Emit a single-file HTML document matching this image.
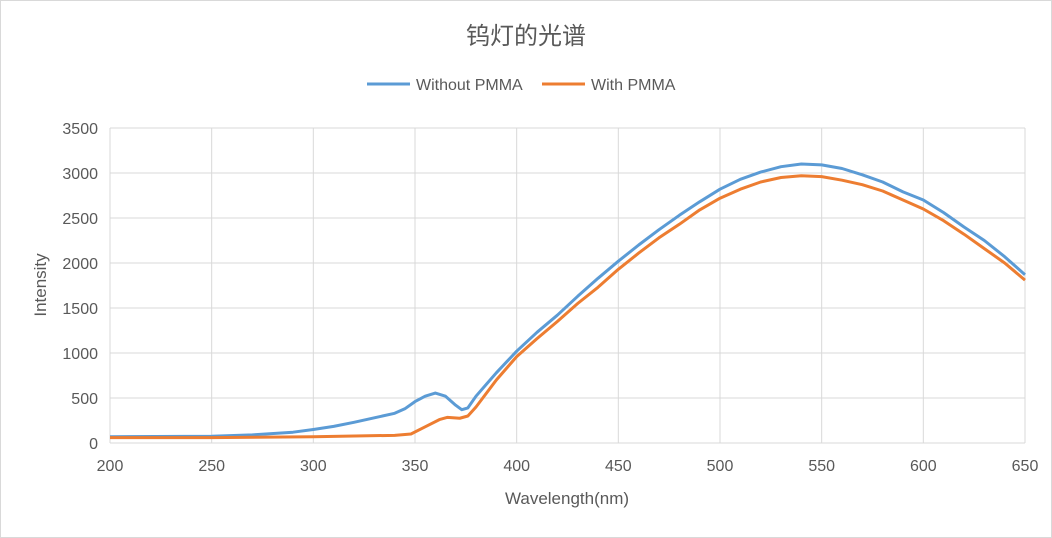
<!DOCTYPE html>
<html><head><meta charset="utf-8"><style>
body{margin:0;background:#fff}
svg{display:block;font-family:"Liberation Sans","Noto Sans CJK SC",sans-serif}
</style></head><body>
<svg id="c" width="1052" height="538">
<rect x="0.5" y="0.5" width="1051" height="537" fill="#fff" stroke="#d9d9d9"/>
<text x="526" y="44" text-anchor="middle" font-size="24" fill="#595959">钨灯的光谱</text>
<g id="legend">
<line x1="367" y1="84" x2="410" y2="84" stroke="#5b9bd5" stroke-width="3"/>
<text x="416" y="90" font-size="16" fill="#595959">Without PMMA</text>
<line x1="542" y1="84" x2="585" y2="84" stroke="#ed7d31" stroke-width="3"/>
<text x="591" y="90" font-size="16" fill="#595959">With PMMA</text>
</g>
<g id="grid"></g><g id="series"></g><g id="axes"></g>
<text x="567" y="504" text-anchor="middle" font-size="17" fill="#595959">Wavelength(nm)</text>
<text transform="translate(46,285) rotate(-90)" text-anchor="middle" font-size="17" fill="#595959">Intensity</text>
</svg>
<script>
const xTicks=[200,250,300,350,400,450,500,550,600,650];
const yTicks=[0,500,1000,1500,2000,2500,3000,3500];
const wlBlue=[200,250,270,290,300,310,320,330,340,345,350,355,360,365,370,373,376,380,390,400,410,420,430,440,450,460,470,480,490,500,510,520,530,540,550,560,570,580,590,600,610,620,630,640,650];
const without=[70,75,90,120,150,185,230,280,330,380,460,520,555,520,420,370,390,520,780,1020,1230,1420,1630,1830,2020,2200,2370,2530,2680,2820,2930,3010,3070,3100,3090,3050,2980,2900,2790,2700,2560,2400,2250,2070,1870];
const wlOrange=[200,250,300,340,348,355,362,366,372,376,380,390,400,410,420,430,440,450,460,470,480,490,500,510,520,530,540,550,560,570,580,590,600,610,620,630,640,650];
const withP=[60,60,70,85,100,180,260,285,275,300,400,700,960,1160,1350,1550,1730,1930,2110,2280,2430,2590,2720,2820,2900,2950,2970,2960,2920,2870,2800,2700,2600,2470,2320,2160,2000,1810];
const X=v=>110+(v-200)*915/450, Y=v=>443-v*315/3500;
const ns="http://www.w3.org/2000/svg";
function mk(t,a,p){const e=document.createElementNS(ns,t);for(const k in a)e.setAttribute(k,a[k]);p.appendChild(e);return e;}
const g=document.getElementById('grid'),ax=document.getElementById('axes'),s=document.getElementById('series');
xTicks.forEach(v=>{const l=mk('line',{x1:X(v),x2:X(v),y1:128,y2:443,stroke:'#d9d9d9'},g);


const t=mk('text',{x:X(v),y:471,'text-anchor':'middle','font-size':16,fill:'#595959'},ax);t.textContent=v;

});
yTicks.forEach(v=>{const l=mk('line',{x1:110,x2:1025,y1:Y(v),y2:Y(v),stroke:'#d9d9d9'},g);


const t=mk('text',{x:98,y:Y(v)+6,'text-anchor':'end','font-size':16,fill:'#595959'},ax);t.textContent=v;

});
function line(xs,ys,c,n){const p=mk('path',{d:xs.map((x,i)=>(i?'L':'M')+X(x)+','+Y(ys[i])).join(''),fill:'none',stroke:c,'stroke-width':3,'stroke-linejoin':'round'},s);

}
line(wlBlue,without,'#5b9bd5','line-without-pmma');
line(wlOrange,withP,'#ed7d31','line-with-pmma');
</script>
</body></html>
